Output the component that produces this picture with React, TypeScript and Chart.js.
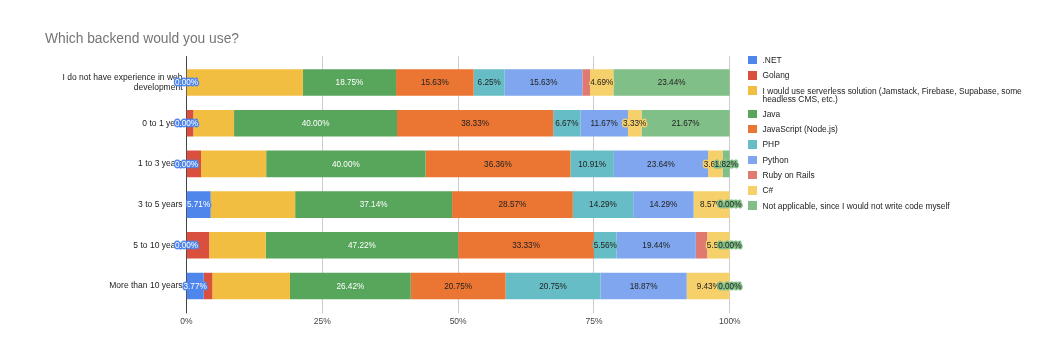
import React, { useEffect, useRef } from "react";
import { Chart, registerables } from "chart.js";

Chart.register(...registerables);

const FONT = '"Liberation Sans", Arial, Helvetica, sans-serif';

// ---- data ----
const categories = [
  ["I do not have experience in web", "development"],
  "0 to 1 year",
  "1 to 3 years",
  "3 to 5 years",
  "5 to 10 years",
  "More than 10 years",
];

const dotnet = [0, 0, 0, 5.71, 0, 3.77];
const golang = [0, 1.67, 3.64, 0, 5.56, 1.89];
const serverless = [23.44, 10.0, 16.36, 20.0, 13.89, 16.98];
const java = [18.75, 40.0, 40.0, 37.14, 47.22, 26.42];
const javascript = [15.63, 38.33, 36.36, 28.57, 33.33, 20.75];
const php = [6.25, 6.67, 10.91, 14.29, 5.56, 20.75];
const python = [15.63, 11.67, 23.64, 14.29, 19.44, 18.87];
const ruby = [1.56, 0, 0, 0, 2.78, 0];
const csharp = [4.69, 3.33, 3.64, 8.57, 5.56, 9.43];
const notApplicable = [23.44, 21.67, 1.82, 0, 0, 0];

const seriesNames = [
  ".NET",
  "Golang",
  "I would use serverless solution (Jamstack, Firebase, Supabase, some headless CMS, etc.)",
  "Java",
  "JavaScript (Node.js)",
  "PHP",
  "Python",
  "Ruby on Rails",
  "C#",
  "Not applicable, since I would not write code myself",
];
const seriesValues = [dotnet, golang, serverless, java, javascript, php, python, ruby, csharp, notApplicable];
const seriesColors = [
  "#4f86ec",
  "#d9503f",
  "#f2be42",
  "#58a55c",
  "#eb7532",
  "#67bdc5",
  "#7fa6ee",
  "#e0796f",
  "#f6d06b",
  "#80bf88",
];
const seriesHasLabels = [true, false, false, true, true, true, true, false, true, true];
const seriesLabelColors = ["#ffffff", "#222", "#222", "#ffffff", "#222", "#222", "#222", "#222", "#222", "#222"];

const xTickValues = [0, 25, 50, 75, 100];
const title = "Which backend would you use?";

// ---- helpers ----
const totals = categories.map((_, i) => seriesValues.reduce((s, arr) => s + arr[i], 0));

const gridPlugin = {
  id: "customGrid",
  beforeDatasetsDraw(chart: any) {
    const { ctx, chartArea, scales } = chart;
    ctx.save();
    xTickValues.forEach((v) => {
      const x = Math.floor(scales.x.getPixelForValue(v)) + 0.5;
      ctx.beginPath();
      ctx.strokeStyle = v === 0 ? "#444" : "#cccccc";
      ctx.lineWidth = 1;
      ctx.moveTo(x, chartArea.top - 6);
      ctx.lineTo(x, chartArea.bottom + 7);
      ctx.stroke();
    });
    ctx.restore();
  },
};

const labelPlugin = {
  id: "segmentLabels",
  afterDatasetsDraw(chart: any) {
    const { ctx } = chart;
    ctx.save();
    ctx.font = `8.2px ${FONT}`;
    ctx.textAlign = "center";
    ctx.textBaseline = "middle";
    ctx.lineJoin = "round";
    chart.data.datasets.forEach((ds: any, di: number) => {
      if (!seriesHasLabels[di]) return;
      const meta = chart.getDatasetMeta(di);
      meta.data.forEach((el: any, i: number) => {
        const raw = seriesValues[di][i];
        const p = el.getProps(["x", "base", "y"], true);
        const cx = (p.x + p.base) / 2;
        const text = raw.toFixed(2) + "%";
        ctx.strokeStyle = seriesColors[di];
        ctx.lineWidth = 3;
        ctx.strokeText(text, cx, p.y + 0.5);
        ctx.fillStyle = seriesLabelColors[di];
        ctx.fillText(text, cx, p.y + 0.5);
      });
    });
    ctx.restore();
  },
};

function ChartCanvas() {
  const ref = useRef<HTMLCanvasElement | null>(null);
  useEffect(() => {
    if (!ref.current) return;
    Chart.defaults.font.family = FONT;
    const chart = new Chart(ref.current, {
      type: "bar",
      data: {
        labels: categories as any,
        datasets: seriesNames.map((name, di) => ({
          label: name,
          data: seriesValues[di].map((v, i) => (v / totals[i]) * 100),
          backgroundColor: seriesColors[di],
          borderWidth: 0,
          barPercentage: 0.654,
          categoryPercentage: 1,
        })),
      },
      options: {
        indexAxis: "y",
        responsive: false,
        animation: false,
        devicePixelRatio: 1,
        layout: { padding: { left: 6.5, right: 334.2, top: 62.15, bottom: 21.65 } },
        plugins: {
          legend: { display: false },
          title: { display: false },
          tooltip: { enabled: false },
        },
        scales: {
          x: {
            stacked: true,
            min: 0,
            max: 100,
            afterFit: (s: any) => {
              s.height = 30;
            },
            afterBuildTicks: (s: any) => {
              s.ticks = xTickValues.map((v) => ({ value: v }));
            },
            grid: { display: false, drawTicks: false },
            border: { display: false },
            ticks: {
              color: "#444",
              font: { size: 8.5, family: FONT },
              padding: 10,
              maxRotation: 0,
              callback: (v: any) => v + "%",
            },
          },
          y: {
            stacked: true,
            afterFit: (s: any) => {
              s.width = 180;
            },
            grid: { display: false, drawTicks: false },
            border: { display: false },
            ticks: {
              color: "#222",
              font: { size: 8.5, family: FONT, lineHeight: 1.15 },
              padding: 4,
              autoSkip: false,
            },
          },
        },
      },
      plugins: [gridPlugin, labelPlugin],
    });
    return () => chart.destroy();
  }, []);
  return <canvas ref={ref} width={1064} height={358} style={{ position: "absolute", left: 0, top: 0, width: 1064, height: 358 }} />;
}

export default function App() {
  return (
    <div style={{ position: "absolute", left: 0, top: 0, width: 1064, height: 358, background: "#fff", overflow: "hidden" }}>
      <ChartCanvas />
      <div
        style={{
          position: "absolute",
          left: 45,
          top: 31.5,
          fontFamily: FONT,
          fontSize: 13.8,
          lineHeight: "13.8px",
          color: "#757575",
          whiteSpace: "nowrap",
        }}
      >
        {title}
      </div>
      {seriesNames.map((name, i) => {
        const center = 60 + 15.3 * i + (i >= 3 ? 8 : 0);
        const top = center - 4.05;
        return (
          <div key={name} style={{ position: "absolute", left: 748, top, width: 290 }}>
            <div
              style={{
                position: "absolute",
                left: 0,
                top: -0.2,
                width: 8.5,
                height: 8.5,
                background: seriesColors[i],
              }}
            />
            <div
              style={{
                position: "absolute",
                left: 14.5,
                top: 0,
                width: 265,
                fontFamily: FONT,
                fontSize: 8.4,
                lineHeight: "8.1px",
                color: "#222",
              }}
            >
              {name}
            </div>
          </div>
        );
      })}
    </div>
  );
}
